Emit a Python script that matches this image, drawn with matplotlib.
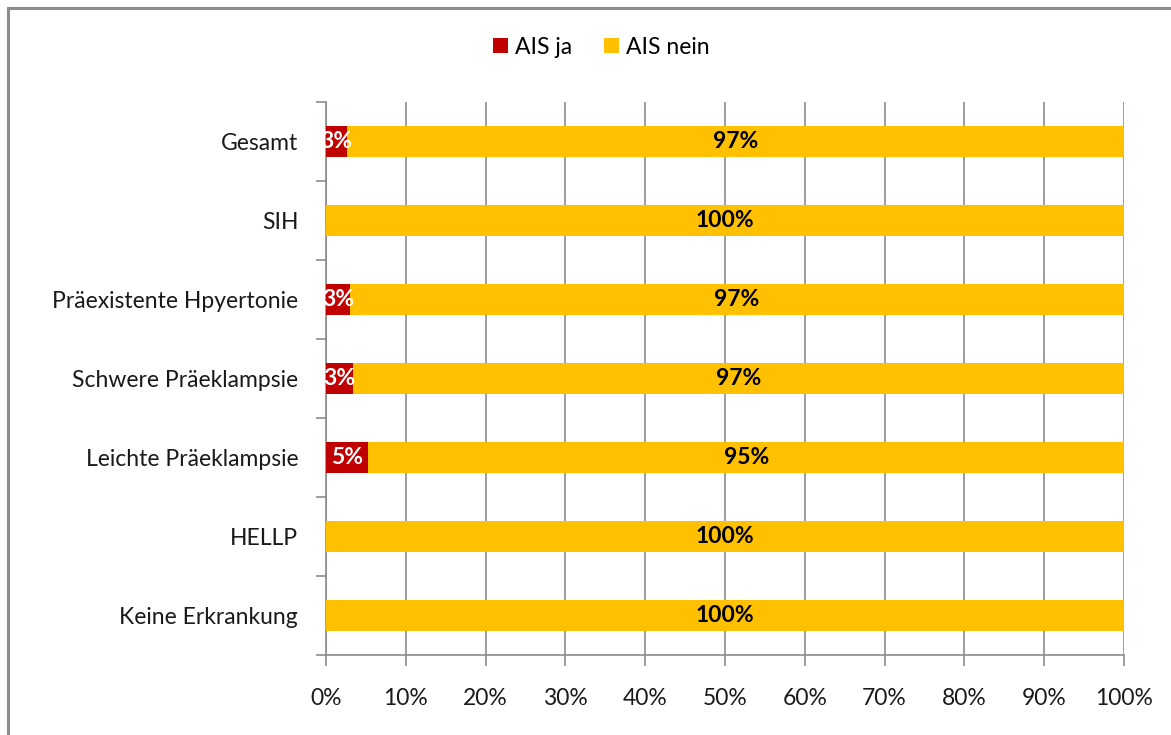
import matplotlib
matplotlib.use("Agg")
import matplotlib.pyplot as plt
from matplotlib.patches import Rectangle
import numpy as np

plt.rcParams["font.family"] = ["Lato", "DejaVu Sans"]

categories = ["Gesamt", "SIH", "Präexistente Hpyertonie", "Schwere Präeklampsie",
              "Leichte Präeklampsie", "HELLP", "Keine Erkrankung"]
ais_ja = [2.6, 0.0, 3.0, 3.4, 5.3, 0.0, 0.0]
ais_nein = [97.4, 100.0, 97.0, 96.6, 94.7, 100.0, 100.0]
x_ticks = [0, 10, 20, 30, 40, 50, 60, 70, 80, 90, 100]

RED = "#C00000"
YELLOW = "#FFC000"
GRID = "#8C8C8C"
FS = 16.5

fig = plt.figure(figsize=(11.71, 7.35), dpi=100)
ax = fig.add_axes([326 / 1171, 1 - 655 / 735, 798 / 1171, 553 / 735])

y = np.arange(len(categories))
bars_ja = ax.barh(y, ais_ja, height=0.4, color=RED, label="AIS ja", zorder=3)
bars_nein = ax.barh(y, ais_nein, left=ais_ja, height=0.4, color=YELLOW,
                    label="AIS nein", zorder=3)

# value labels inside the segments, skipped for empty segments
for bar, v in zip(bars_ja, ais_ja):
    if v > 0:
        ax.text(bar.get_x() + bar.get_width() / 2, bar.get_y() + bar.get_height() / 2,
                f"{v:.0f}%", ha="center", va="center", color="white",
                fontsize=FS, fontweight="bold", zorder=4)
for bar, v in zip(bars_nein, ais_nein):
    if v > 0:
        ax.text(bar.get_x() + bar.get_width() / 2, bar.get_y() + bar.get_height() / 2,
                f"{v:.0f}%", ha="center", va="center", color="black",
                fontsize=FS, fontweight="bold", zorder=4)

ax.set_xlim(0, 100)
ax.set_ylim(len(categories) - 0.5, -0.5)
ax.set_xticks(x_ticks)
ax.set_xticklabels([f"{t}%" for t in x_ticks], fontsize=FS, color="#1a1a1a")
ax.set_yticks(y)
ax.set_yticklabels(categories, fontsize=FS, color="#1a1a1a")
ax.set_yticks(np.arange(-0.5, len(categories), 1.0), minor=True)
ax.tick_params(axis="y", which="major", length=0, pad=20)
ax.tick_params(axis="y", which="minor", length=7, color=GRID, width=1.2)
ax.tick_params(axis="x", length=8, color=GRID, width=1.2, pad=16)

ax.xaxis.grid(True, color=GRID, linewidth=1.2, zorder=0)
ax.set_axisbelow(True)
for side in ["top", "right"]:
    ax.spines[side].set_visible(False)
for side in ["left", "bottom"]:
    ax.spines[side].set_color(GRID)
    ax.spines[side].set_linewidth(1.2)

leg = fig.legend(loc="center", bbox_to_anchor=(601 / 1171, 1 - 47 / 735), ncol=2,
                 frameon=False, fontsize=FS, handlelength=0.65, handleheight=0.65,
                 handletextpad=0.3, columnspacing=1.4)

# outer chart border
fig.patches.append(Rectangle((8 / 1171, -0.1), 1.2, 1 - 8 / 735 + 0.1,
                             transform=fig.transFigure, fill=False,
                             edgecolor="#8C8C8C", linewidth=2.2))

fig.savefig("out.png", dpi=100)
